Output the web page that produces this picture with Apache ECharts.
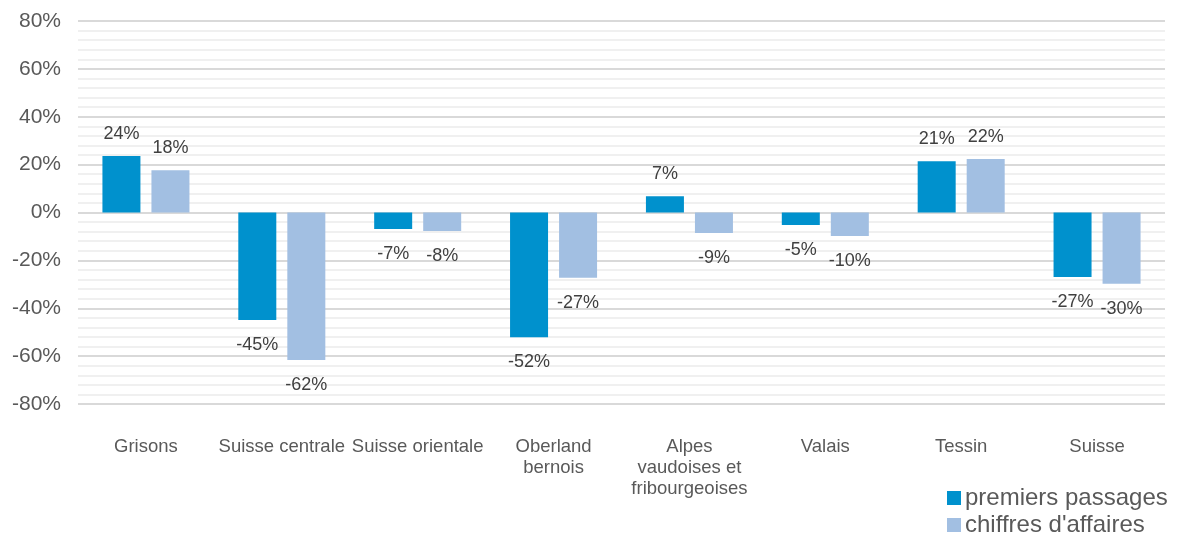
<!DOCTYPE html>
<html><head><meta charset="utf-8">
<script src="https://cdn.jsdelivr.net/npm/echarts@6/dist/echarts.min.js"></script>
<style>html,body{margin:0;padding:0;background:#fff}#c{width:1179px;height:535px}</style>
</head><body><div id="c"></div>
<script>
const categories = ["Grisons", "Suisse centrale", "Suisse orientale", "Oberland\nbernois", "Alpes\nvaudoises et\nfribourgeoises", "Valais", "Tessin", "Suisse"];
const premiersPassages = [23.6, -44.9, -6.9, -52.1, 6.8, -5.2, 21.4, -26.9];
const chiffresAffaires = [17.7, -61.6, -7.7, -27.3, -8.6, -9.8, 22.3, -29.8];
const seriesNames = ["premiers passages", "chiffres d'affaires"];
const yTicks = {min: -80, max: 80, interval: 20};

const font = '"Liberation Sans", Arial, sans-serif';
function lbl(p){ return Math.round(p.value) + '%'; }
function mkSeries(name, data, color){
  return {
    name: name, type: 'bar', barWidth: 38, barGap: '29%',
    itemStyle: {color: color},
    data: data.map(v => ({value: v, label: v >= 0 ? {position: 'top', distance: 13} : {position: 'bottom', distance: 16}})),
    label: {show: true, formatter: lbl, color: '#404040', fontSize: 18, fontFamily: font}
  };
}
function mkLegend(name, top){
  return {
    orient: 'vertical', left: 947, top: top, padding: 0, itemWidth: 14, itemHeight: 14,
    icon: 'rect',
    textStyle: {fontSize: 24, color: '#595959', fontFamily: font, padding: [0,0,0,-1]},
    data: [name]
  };
}
const chart = echarts.init(document.getElementById('c'), null, {renderer: 'canvas'});
chart.setOption({
  animation: false,
  grid: {left: 78, right: 14, top: 21, bottom: 131, containLabel: false},
  legend: [mkLegend(seriesNames[0], 486), mkLegend(seriesNames[1], 513)],
  xAxis: {
    type: 'category', data: categories,
    axisLine: {show: false}, axisTick: {show: false},
    axisLabel: {color: '#595959', fontSize: 18.5, fontFamily: font, margin: 32, interval: 0, lineHeight: 21, verticalAlign: 'top'}
  },
  yAxis: {
    type: 'value', min: yTicks.min, max: yTicks.max, interval: yTicks.interval,
    axisLabel: {formatter: '{value}%', color: '#595959', fontSize: 21, fontFamily: font, margin: 17},
    axisLine: {show: false}, axisTick: {show: false},
    splitLine: {lineStyle: {color: '#d9d9d9', width: 2}},
    minorTick: {show: false, splitNumber: 5},
    minorSplitLine: {show: true, lineStyle: {color: '#f0f0f0', width: 2}}
  },
  series: [
    mkSeries(seriesNames[0], premiersPassages, '#0091cd'),
    mkSeries(seriesNames[1], chiffresAffaires, '#a2bfe2')
  ]
});
</script></body></html>
